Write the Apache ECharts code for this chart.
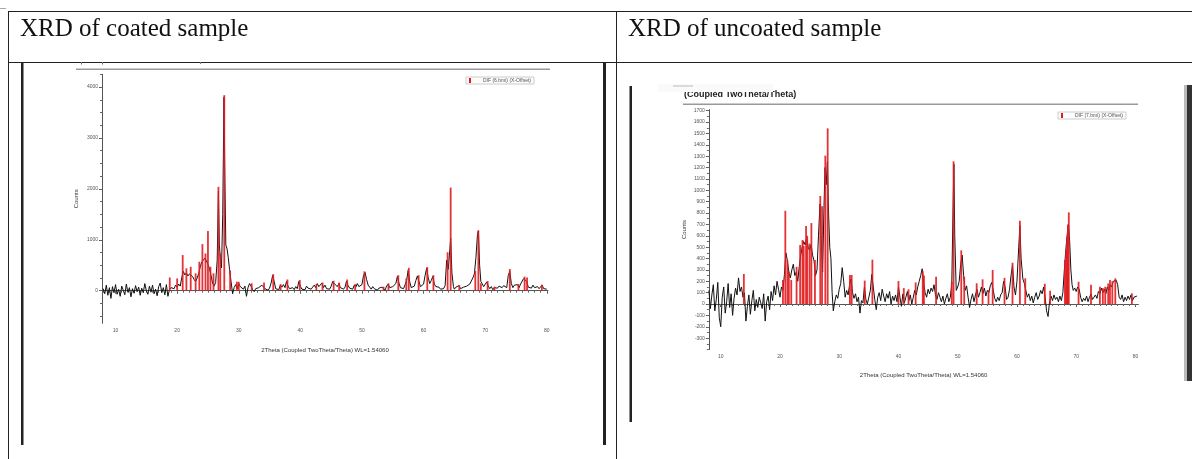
<!DOCTYPE html>
<html>
<head>
<meta charset="utf-8">
<script src="https://cdn.jsdelivr.net/npm/echarts@6/dist/echarts.min.js"></script>
<style>
html,body{margin:0;padding:0;background:#fff;}
#chart{width:1192px;height:459px;}
</style>
</head>
<body>
<div id="chart"></div>
<script>
// ---------- DATA ----------
var headerTitles = ['XRD of coated sample', 'XRD of uncoated sample'];
var xAxisTitle = '2Theta (Coupled TwoTheta/Theta) WL=1.54060';
var yAxisTitle = 'Counts';
var coatedLegend = 'DIF (6.bmi) (X-Offset)';
var uncoatedLegend = 'DIF (7.bmi) (X-Offset)';
var rightFragmentTitle = '(Coupled TwoTheta/Theta)';

var thetaTickLabels = [10, 20, 30, 40, 50, 60, 70, 80];
var coatedCountTicks = [0, 1000, 2000, 3000, 4000];
var uncoatedCountTicks = [-300,-200,-100,0,100,200,300,400,500,600,700,800,900,1000,1100,1200,1300,1400,1500,1600,1700];

// coated sample: measured scan (2theta, counts)
var coatedScan = [
[8.0,40],[8.25,-60],[8.5,110],[8.75,-90],[9.0,60],[9.25,-150],[9.5,80],[9.75,-40],[10.0,120],[10.25,-70],
[10.5,30],[10.75,-110],[11.0,90],[11.25,10],[11.5,-80],[11.75,130],[12.0,-30],[12.25,60],[12.5,-120],[12.75,40],
[13.0,-50],[13.25,100],[13.5,-20],[13.75,70],[14.0,-90],[14.25,50],[14.5,-40],[14.75,140],[15.0,0],[15.25,-70],
[15.5,90],[15.75,-30],[16.0,110],[16.25,-60],[16.5,30],[16.75,-100],[17.0,80],[17.25,150],[17.5,-40],[17.75,60],
[18.0,-80],[18.25,120],[18.5,-110],[18.75,20],[19.0,60],[19.25,90],[19.5,40],[19.75,110],[20.0,70],[20.25,130],
[20.5,90],[20.75,260],[21.0,380],[21.25,310],[21.5,350],[21.75,290],[22.0,330],[22.25,360],[22.5,280],[22.75,220],
[23.0,180],[23.25,250],[23.5,340],[23.75,470],[24.0,560],[24.25,600],[24.5,640],[24.75,610],[25.0,520],[25.25,430],
[25.5,300],[25.75,150],[26.0,90],[26.25,160],[26.5,600],[26.7,1950],[26.85,900],[27.0,650],[27.2,450],[27.4,1500],
[27.6,3800],[27.75,2200],[27.9,900],[28.1,820],[28.3,650],[28.5,420],[28.75,180],[29.0,-60],[29.25,60],[29.5,120],
[29.75,40],[30.0,140],[30.25,80],[30.5,110],[30.75,30],[31.0,90],[31.25,-110],[31.5,60],[31.75,140],[32.0,90],
[32.25,20],[32.5,-20],[32.75,40],[33.0,10],[33.25,60],[33.5,30],[33.75,110],[34.0,80],[34.25,40],[34.5,60],
[34.75,10],[35.0,50],[35.25,150],[35.5,300],[35.75,180],[36.0,40],[36.25,60],[36.5,20],[36.75,110],[37.0,70],
[37.25,120],[37.5,60],[37.75,180],[38.0,90],[38.25,40],[38.5,10],[38.75,60],[39.0,20],[39.25,80],[39.5,40],
[39.75,180],[40.0,90],[40.25,30],[40.5,60],[40.75,20],[41.0,90],[41.25,50],[41.5,80],[41.75,30],[42.0,70],
[42.25,110],[42.5,60],[42.75,140],[43.0,80],[43.25,100],[43.5,150],[43.75,60],[44.0,110],[44.25,40],[44.5,70],
[44.75,30],[45.0,90],[45.25,180],[45.5,140],[45.75,170],[46.0,80],[46.25,140],[46.5,60],[46.75,90],[47.0,30],
[47.25,70],[47.5,190],[47.75,100],[48.0,50],[48.25,80],[48.5,30],[48.75,110],[49.0,70],[49.25,140],[49.5,80],
[49.75,50],[50.0,120],[50.25,300],[50.5,360],[50.75,220],[51.0,110],[51.25,70],[51.5,30],[51.75,80],[52.0,40],
[52.25,60],[52.5,10],[52.75,50],[53.0,20],[53.25,70],[53.5,60],[53.75,10],[54.0,90],[54.25,130],[54.5,60],
[54.75,40],[55.0,80],[55.25,50],[55.5,140],[55.75,280],[56.0,150],[56.25,60],[56.5,90],[56.75,40],[57.0,120],
[57.25,200],[57.5,400],[57.75,180],[58.0,60],[58.25,30],[58.5,90],[58.75,200],[59.0,290],[59.25,180],[59.5,80],
[59.75,50],[60.0,130],[60.25,300],[60.5,440],[60.75,260],[61.0,140],[61.25,200],[61.5,280],[61.75,130],[62.0,80],
[62.25,50],[62.5,70],[62.75,30],[63.0,60],[63.25,40],[63.5,100],[63.75,600],[64.0,420],[64.2,700],[64.4,1030],
[64.6,350],[64.85,80],[65.0,30],[65.25,70],[65.5,50],[65.75,100],[66.0,40],[66.25,20],[66.5,70],[66.75,50],
[67.0,90],[67.25,60],[67.5,130],[67.75,160],[68.0,250],[68.25,330],[68.5,650],[68.75,1100],[68.9,1180],[69.1,500],
[69.3,180],[69.5,140],[69.75,80],[70.0,110],[70.25,170],[70.5,90],[70.75,40],[71.0,80],[71.25,20],[71.5,60],
[71.75,70],[72.0,50],[72.25,90],[72.5,80],[72.75,60],[73.0,100],[73.25,70],[73.5,60],[73.75,300],[74.0,380],
[74.25,140],[74.5,60],[74.75,110],[75.0,80],[75.25,120],[75.5,60],[75.75,130],[76.0,100],[76.25,240],[76.5,230],
[76.75,180],[77.0,70],[77.25,90],[77.5,50],[77.75,110],[78.0,60],[78.25,30],[78.5,80],[78.75,40],[79.0,60],
[79.25,110],[79.5,40],[79.75,70],[80.0,30]
];

// coated sample: DIF reference sticks (2theta, counts)
var coatedDif = [
[18.8,260],[20.0,240],[20.9,700],[21.5,440],[22.2,470],[23.0,340],[23.6,570],[24.1,915],[24.6,730],[25.0,1175],
[25.4,470],[25.9,340],[26.7,2040],[27.0,730],[27.65,3840],[28.6,400],[29.7,175],[30.0,175],[32.1,145],[34.1,160],
[35.6,325],[36.8,130],[37.9,220],[39.9,210],[42.6,130],[43.6,160],[45.4,195],[46.3,160],[47.6,220],[48.9,130],
[50.4,380],[53.5,80],[54.3,145],[55.9,305],[57.2,240],[57.6,450],[59.2,305],[60.6,465],[61.6,305],[63.9,755],
[64.4,2025],[65.8,110],[68.4,390],[68.9,1180],[69.3,145],[70.4,190],[71.5,80],[74.0,425],[75.4,130],[76.4,275],
[76.8,260],[79.2,120]
];

// uncoated sample: measured scan (2theta, counts)
var uncoatedScan = [
[8.0,120],[8.25,-40],[8.5,80],[8.75,170],[9.0,-60],[9.25,40],[9.5,190],[9.75,-120],[10.0,-200],[10.25,60],
[10.5,150],[10.75,-80],[11.0,20],[11.25,180],[11.5,-30],[11.75,90],[12.0,-100],[12.25,50],[12.5,140],[12.75,80],
[13.0,230],[13.25,110],[13.5,150],[13.75,60],[14.0,100],[14.25,-150],[14.5,-20],[14.75,80],[15.0,-90],[15.25,30],
[15.5,120],[15.75,-60],[16.0,40],[16.25,-30],[16.5,60],[16.75,10],[17.0,-40],[17.25,90],[17.5,-150],[17.75,20],
[18.0,70],[18.25,-50],[18.5,110],[18.75,30],[19.0,160],[19.25,80],[19.5,200],[19.75,130],[20.0,60],[20.25,150],
[20.5,120],[20.75,260],[21.0,450],[21.25,380],[21.5,280],[21.75,230],[22.0,300],[22.25,350],[22.5,250],[22.75,280],
[23.0,200],[23.25,330],[23.5,430],[23.75,500],[24.0,550],[24.25,520],[24.5,580],[24.75,500],[25.0,470],[25.25,520],
[25.5,430],[25.75,380],[26.0,250],[26.25,300],[26.5,600],[26.75,880],[27.0,500],[27.2,280],[27.4,800],[27.6,1200],
[27.8,1050],[28.0,1250],[28.2,800],[28.4,500],[28.6,400],[28.8,100],[29.0,-60],[29.25,20],[29.5,80],[29.75,50],
[30.0,130],[30.25,180],[30.5,320],[30.75,200],[31.0,60],[31.25,120],[31.5,80],[31.75,170],[32.0,220],[32.25,100],
[32.5,50],[32.75,90],[33.0,20],[33.25,60],[33.5,-80],[33.75,30],[34.0,10],[34.25,150],[34.5,40],[34.75,0],
[35.0,60],[35.25,120],[35.5,260],[35.75,150],[36.0,40],[36.25,-50],[36.5,60],[36.75,100],[37.0,30],[37.25,130],
[37.5,70],[37.75,20],[38.0,90],[38.25,50],[38.5,110],[38.75,0],[39.0,70],[39.25,30],[39.5,80],[39.75,20],
[40.0,150],[40.25,60],[40.5,-20],[40.75,90],[41.0,10],[41.25,60],[41.5,110],[41.75,30],[42.0,80],[42.25,0],
[42.5,60],[42.75,120],[43.0,80],[43.25,150],[43.5,200],[43.75,250],[44.0,310],[44.25,180],[44.5,100],[44.75,60],
[45.0,130],[45.25,90],[45.5,140],[45.75,110],[46.0,170],[46.25,80],[46.5,40],[46.75,100],[47.0,60],[47.25,20],
[47.5,70],[47.75,0],[48.0,50],[48.25,90],[48.5,20],[48.75,60],[49.0,180],[49.2,800],[49.35,1230],[49.5,600],
[49.75,120],[50.0,150],[50.25,200],[50.5,350],[50.75,430],[51.0,250],[51.25,120],[51.5,160],[51.75,60],[52.0,-30],
[52.25,40],[52.5,90],[52.75,20],[53.0,80],[53.25,130],[53.5,60],[53.75,100],[54.0,150],[54.25,90],[54.5,140],
[54.75,70],[55.0,120],[55.25,100],[55.5,160],[55.75,190],[56.0,120],[56.25,50],[56.5,20],[56.75,60],[57.0,30],
[57.25,80],[57.5,100],[57.75,200],[58.0,150],[58.25,40],[58.5,60],[58.75,130],[59.0,250],[59.25,340],[59.5,150],
[59.75,80],[60.0,200],[60.3,500],[60.5,690],[60.7,400],[61.0,220],[61.25,180],[61.5,120],[61.75,60],[62.0,90],
[62.25,30],[62.5,70],[62.75,10],[63.0,60],[63.25,100],[63.5,40],[63.75,70],[64.0,120],[64.25,90],[64.5,150],
[64.75,60],[65.0,-60],[65.25,-110],[65.5,20],[65.75,70],[66.0,30],[66.25,80],[66.5,40],[66.75,60],[67.0,20],
[67.25,70],[67.5,30],[67.75,100],[68.0,300],[68.25,480],[68.5,620],[68.7,700],[68.9,550],[69.1,300],[69.3,170],
[69.5,120],[69.75,140],[70.0,110],[70.25,150],[70.5,130],[70.75,60],[71.0,20],[71.25,50],[71.5,30],[71.75,70],
[72.0,20],[72.25,60],[72.5,90],[72.75,40],[73.0,60],[73.25,80],[73.5,50],[73.75,110],[74.0,90],[74.25,140],
[74.5,100],[74.75,130],[75.0,90],[75.25,150],[75.5,120],[75.75,170],[76.0,150],[76.25,200],[76.5,190],[76.75,210],
[77.0,170],[77.25,60],[77.5,40],[77.75,80],[78.0,20],[78.25,60],[78.5,30],[78.75,70],[79.0,40],[79.25,80],
[79.5,30],[79.75,60],[80.0,50],[80.25,70]
];

// uncoated sample: DIF reference sticks (2theta, counts)
var uncoatedDif = [
[13.9,264],[20.5,211],[20.9,820],[21.25,387],[21.5,284],[21.9,211],[22.8,328],[23.4,519],[23.8,563],[24.0,510],
[24.4,686],[24.6,600],[25.0,533],[25.3,712],[25.9,387],[26.8,950],[27.1,860],[27.65,1305],[28.05,1545],[31.8,255],
[32.1,255],[34.3,206],[35.6,390],[40.0,202],[40.9,140],[41.7,129],[42.9,190],[44.1,290],[44.3,250],[46.35,240],
[49.0,196],[49.3,1255],[50.6,472],[51.1,240],[53.2,182],[54.2,217],[55.2,123],[55.9,299],[57.9,230],[59.25,363],
[60.5,732],[61.4,226],[64.7,178],[65.6,117],[68.1,387],[68.3,480],[68.45,592],[68.6,700],[68.75,806],[70.4,196],
[72.5,170],[74.0,152],[74.5,140],[74.9,152],[75.4,180],[75.7,211],[76.1,200],[76.6,226],[79.4,94]
];

// ---------- CHART ----------
var chart = echarts.init(document.getElementById('chart'), null, {renderer: 'canvas'});

function range(a, b, step) { var r = []; for (var v = a; v <= b + 1e-9; v += step) r.push(Math.round(v * 100) / 100); return r; }
function plain(v) { return String(v); }

var axisColor = '#555';
var labelStyle = {color: '#555', fontSize: 5, fontFamily: 'Liberation Sans, Arial, sans-serif'};
var nameStyle = {color: '#333', fontSize: 6, fontFamily: 'Liberation Sans, Arial, sans-serif'};

function stickRender(params, api) {
  var x = api.value(0), y = api.value(1);
  var p0 = api.coord([x, 0]);
  var p1 = api.coord([x, y]);
  return {type: 'line', shape: {x1: p0[0], y1: p0[1], x2: p1[0], y2: p1[1]},
    style: {stroke: 'rgba(225,28,32,0.9)', lineWidth: 1.8}};
}

function mainX(grid, min, max) {
  return {type: 'value', gridIndex: grid, min: min, max: max, position: 'bottom',
    name: xAxisTitle, nameLocation: 'middle', nameGap: grid === 0 ? 24 : 22.5, nameTextStyle: nameStyle,
    axisLine: {show: true, lineStyle: {color: axisColor, width: 1}},
    axisTick: {show: true, length: 3, customValues: thetaTickLabels, lineStyle: {color: axisColor}},
    axisLabel: Object.assign({show: true, customValues: thetaTickLabels, margin: 5, formatter: plain}, labelStyle),
    splitLine: {show: false}};
}
function minorX(grid, min, max) {
  return {type: 'value', gridIndex: grid, min: min, max: max, position: 'bottom',
    axisLine: {show: false}, axisLabel: {show: false}, splitLine: {show: false},
    axisTick: {show: true, length: 2, customValues: range(Math.ceil(min), Math.floor(max), 1), lineStyle: {color: '#666', width: 1}}};
}
function mainY(grid, min, max, ticks) {
  return {type: 'value', gridIndex: grid, min: min, max: max, position: 'left',
    name: yAxisTitle, nameLocation: 'middle', nameGap: grid === 0 ? 23 : 22, nameRotate: 90, nameTextStyle: nameStyle,
    axisLine: {show: true, lineStyle: {color: axisColor, width: 1}},
    axisTick: {show: true, length: 3, customValues: ticks, lineStyle: {color: axisColor}},
    axisLabel: Object.assign({show: true, customValues: ticks, margin: 4, formatter: plain}, labelStyle),
    splitLine: {show: false}};
}
function minorY(grid, min, max, step) {
  return {type: 'value', gridIndex: grid, min: min, max: max, position: 'left',
    axisLine: {show: false}, axisLabel: {show: false}, splitLine: {show: false},
    axisTick: {show: true, length: 2, customValues: range(Math.ceil(min / step) * step, max, step), lineStyle: {color: '#666', width: 1}}};
}

var tableLine = {stroke: '#222', lineWidth: 1};
var graphics = [
  // table borders
  {type: 'line', shape: {x1: 8, y1: 11.5, x2: 1192, y2: 11.5}, style: tableLine, silent: true},
  {type: 'line', shape: {x1: 8, y1: 62.5, x2: 1192, y2: 62.5}, style: tableLine, silent: true},
  {type: 'line', shape: {x1: 8.5, y1: 11, x2: 8.5, y2: 459}, style: tableLine, silent: true},
  {type: 'line', shape: {x1: 616.5, y1: 11, x2: 616.5, y2: 459}, style: tableLine, silent: true},
  {type: 'line', shape: {x1: 0, y1: 8.5, x2: 6, y2: 8.5}, style: {stroke: '#aaa', lineWidth: 1}, silent: true},
  // header texts
  {type: 'text', x: 20, y: 29, style: {text: headerTitles[0], fill: '#111', font: '25px "Liberation Serif", "Times New Roman", serif', verticalAlign: 'middle'}, silent: true},
  {type: 'text', x: 628, y: 29, style: {text: headerTitles[1], fill: '#111', font: '25px "Liberation Serif", "Times New Roman", serif', verticalAlign: 'middle'}, silent: true},
  // left cell image frame
  {type: 'rect', shape: {x: 21, y: 62, width: 2.5, height: 383}, style: {fill: '#222'}, silent: true},
  {type: 'rect', shape: {x: 603, y: 62, width: 3, height: 383}, style: {fill: '#222'}, silent: true},
  {type: 'rect', shape: {x: 76, y: 68.5, width: 474, height: 1.5}, style: {fill: '#999'}, silent: true},
  {type: 'line', shape: {x1: 81.5, y1: 62, x2: 81.5, y2: 64.5}, style: {stroke: '#777', lineWidth: 1}, silent: true},
  {type: 'line', shape: {x1: 102.5, y1: 62, x2: 102.5, y2: 64.5}, style: {stroke: '#777', lineWidth: 1}, silent: true},
  {type: 'line', shape: {x1: 200.5, y1: 62, x2: 200.5, y2: 64}, style: {stroke: '#777', lineWidth: 1}, silent: true},
  // right cell image frame
  {type: 'rect', shape: {x: 629.5, y: 86, width: 2.5, height: 336}, style: {fill: '#222'}, silent: true},
  {type: 'rect', shape: {x: 1184, y: 85, width: 3, height: 296}, style: {fill: '#bbb'}, silent: true},
  {type: 'rect', shape: {x: 1187, y: 85, width: 5, height: 296}, style: {fill: '#333'}, silent: true},
  {type: 'text', x: 684, y: 95, style: {text: rightFragmentTitle, fill: '#222', font: 'bold 9px "Liberation Sans", Arial, sans-serif', verticalAlign: 'middle'}, silent: true},
  {type: 'rect', shape: {x: 657, y: 84, width: 116, height: 8}, style: {fill: '#fafafa'}, silent: true},
  {type: 'line', shape: {x1: 673, y1: 86, x2: 693, y2: 86}, style: {stroke: '#bbb', lineWidth: 1}, silent: true},
  {type: 'rect', shape: {x: 683, y: 103.5, width: 455, height: 1.5}, style: {fill: '#999'}, silent: true}
];

function legendCfg(name, left, top) {
  return {data: [name], left: left, top: top, orient: 'horizontal', padding: [1, 3, 1, 3],
    borderColor: '#ccc', borderWidth: 1, backgroundColor: '#fcfcfc',
    itemWidth: 2, itemHeight: 5, icon: 'rect', selectedMode: false,
    textStyle: {fontSize: 5, color: '#555', padding: [0, 0, 0, 7], fontFamily: 'Liberation Sans, Arial, sans-serif'}};
}

var option = {
  backgroundColor: '#fff',
  animation: false,
  legend: [legendCfg(coatedLegend, 466, 77), legendCfg(uncoatedLegend, 1058, 112)],
  grid: [
    {left: 102, top: 74.3, width: 446, height: 249, containLabel: false},
    {left: 708.9, top: 109.6, width: 429.5, height: 239.9, containLabel: false}
  ],
  xAxis: [mainX(0, 7.8, 80.2), minorX(0, 7.8, 80.2), mainX(1, 8, 80.5), minorX(1, 8, 80.5)],
  yAxis: [mainY(0, -640, 4250, coatedCountTicks), minorY(0, -640, 4250, 250),
          mainY(1, -400, 1710, uncoatedCountTicks), minorY(1, -400, 1710, 50)],
  series: [
    {name: 'coated scan', type: 'line', xAxisIndex: 0, yAxisIndex: 0, data: coatedScan, showSymbol: false,
     lineStyle: {color: '#111', width: 1}, z: 2, silent: true},
    {name: coatedLegend, type: 'custom', xAxisIndex: 0, yAxisIndex: 0, data: coatedDif, encode: {x: 0, y: 1},
     renderItem: stickRender, itemStyle: {color: '#e11c20'}, z: 3, silent: true},
    {name: 'uncoated scan', type: 'line', xAxisIndex: 2, yAxisIndex: 2, data: uncoatedScan, showSymbol: false,
     lineStyle: {color: '#111', width: 1}, z: 2, silent: true},
    {name: uncoatedLegend, type: 'custom', xAxisIndex: 2, yAxisIndex: 2, data: uncoatedDif, encode: {x: 0, y: 1},
     renderItem: stickRender, itemStyle: {color: '#e11c20'}, z: 3, silent: true}
  ],
  graphic: {elements: graphics}
};
chart.setOption(option);
</script>
</body>
</html>
